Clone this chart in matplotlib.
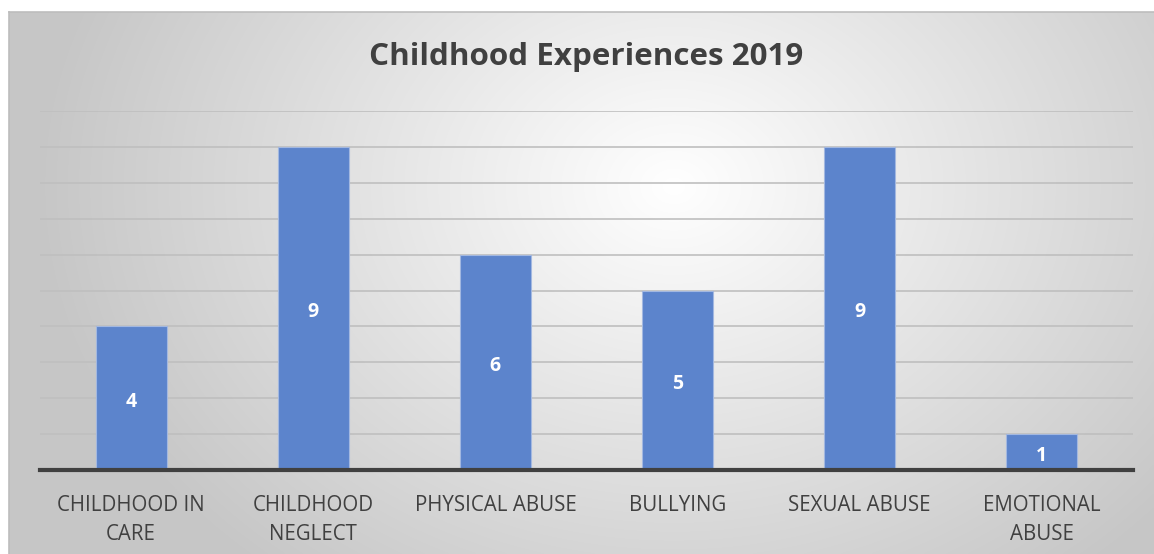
import numpy as np
import matplotlib
matplotlib.use("Agg")
import matplotlib.pyplot as plt

categories = ["CHILDHOOD IN\nCARE", "CHILDHOOD\nNEGLECT", "PHYSICAL ABUSE",
              "BULLYING", "SEXUAL ABUSE", "EMOTIONAL\nABUSE"]
values = [4, 9, 6, 5, 9, 1]
title = "Childhood Experiences 2019"

bar_color = "#5c84cc"
text_color = "#404040"
grid_color = "#bfbfbf"

plt.rcParams['font.family'] = ['Open Sans', 'DejaVu Sans']

W, H = 1154, 554
fig = plt.figure(figsize=(W / 100, H / 100), dpi=100)
fig.patch.set_facecolor("white")

# Chart panel with a soft radial gradient
px0, py1 = 9 / W, 1 - 12 / H
bg = fig.add_axes([px0, 0, 1 - px0, py1])
ny, nx = 300, 600
yy, xx = np.mgrid[0:ny, 0:nx]
cx, cy = 0.58 * nx, 0.32 * ny
r = np.sqrt(((xx - cx) / nx) ** 2 + ((yy - cy) / ny * 0.6) ** 2)
r = np.clip(r / 0.55, 0, 1)
shade = 1.0 - 0.22 * r
bg.imshow(np.dstack([shade, shade, shade]), aspect="auto", extent=[0, 1, 0, 1],
          origin="upper", interpolation="bilinear")
bg.set_xlim(0, 1)
bg.set_ylim(0, 1)
for s in ["right", "bottom"]:
    bg.spines[s].set_visible(False)
for s in ["top", "left"]:
    bg.spines[s].set_color("#bdbdbd")
    bg.spines[s].set_linewidth(1.2)
bg.set_xticks([])
bg.set_yticks([])

# Plot area
ax = fig.add_axes([40 / W, 1 - 470 / H, (1133 - 40) / W, (470 - 111) / H])
ax.patch.set_alpha(0)
x = np.arange(len(values))
bars = ax.bar(x, values, width=0.39, color=bar_color, edgecolor="#a3b8e0",
              linewidth=0.8, zorder=3)
for rect, v in zip(bars, values):
    ax.text(rect.get_x() + rect.get_width() / 2, v / 2 - 0.1, str(v), ha="center",
            va="center", color="white", fontsize=14, fontweight="bold", zorder=4)

ax.set_xlim(-0.5, len(values) - 0.5)
ax.set_ylim(0, 10)
ax.set_yticks(np.arange(1, 11))
ax.yaxis.grid(True, color=grid_color, linewidth=1.2, zorder=0)
ax.tick_params(axis="y", length=0, labelleft=False)
ax.set_xticks(x)
ax.set_xticklabels(categories, fontsize=14.8, color=text_color, linespacing=1.5)
ax.tick_params(axis="x", length=0, pad=18)
for s in ["top", "right", "left"]:
    ax.spines[s].set_visible(False)
ax.spines["bottom"].set_color(text_color)
ax.spines["bottom"].set_linewidth(3)
ax.spines["bottom"].set_zorder(5)

fig.text(586 / W, 1 - 57 / H, title, ha="center", va="center", fontsize=22.6,
         fontweight="bold", color=text_color)

fig.savefig("out.png", dpi=100)
